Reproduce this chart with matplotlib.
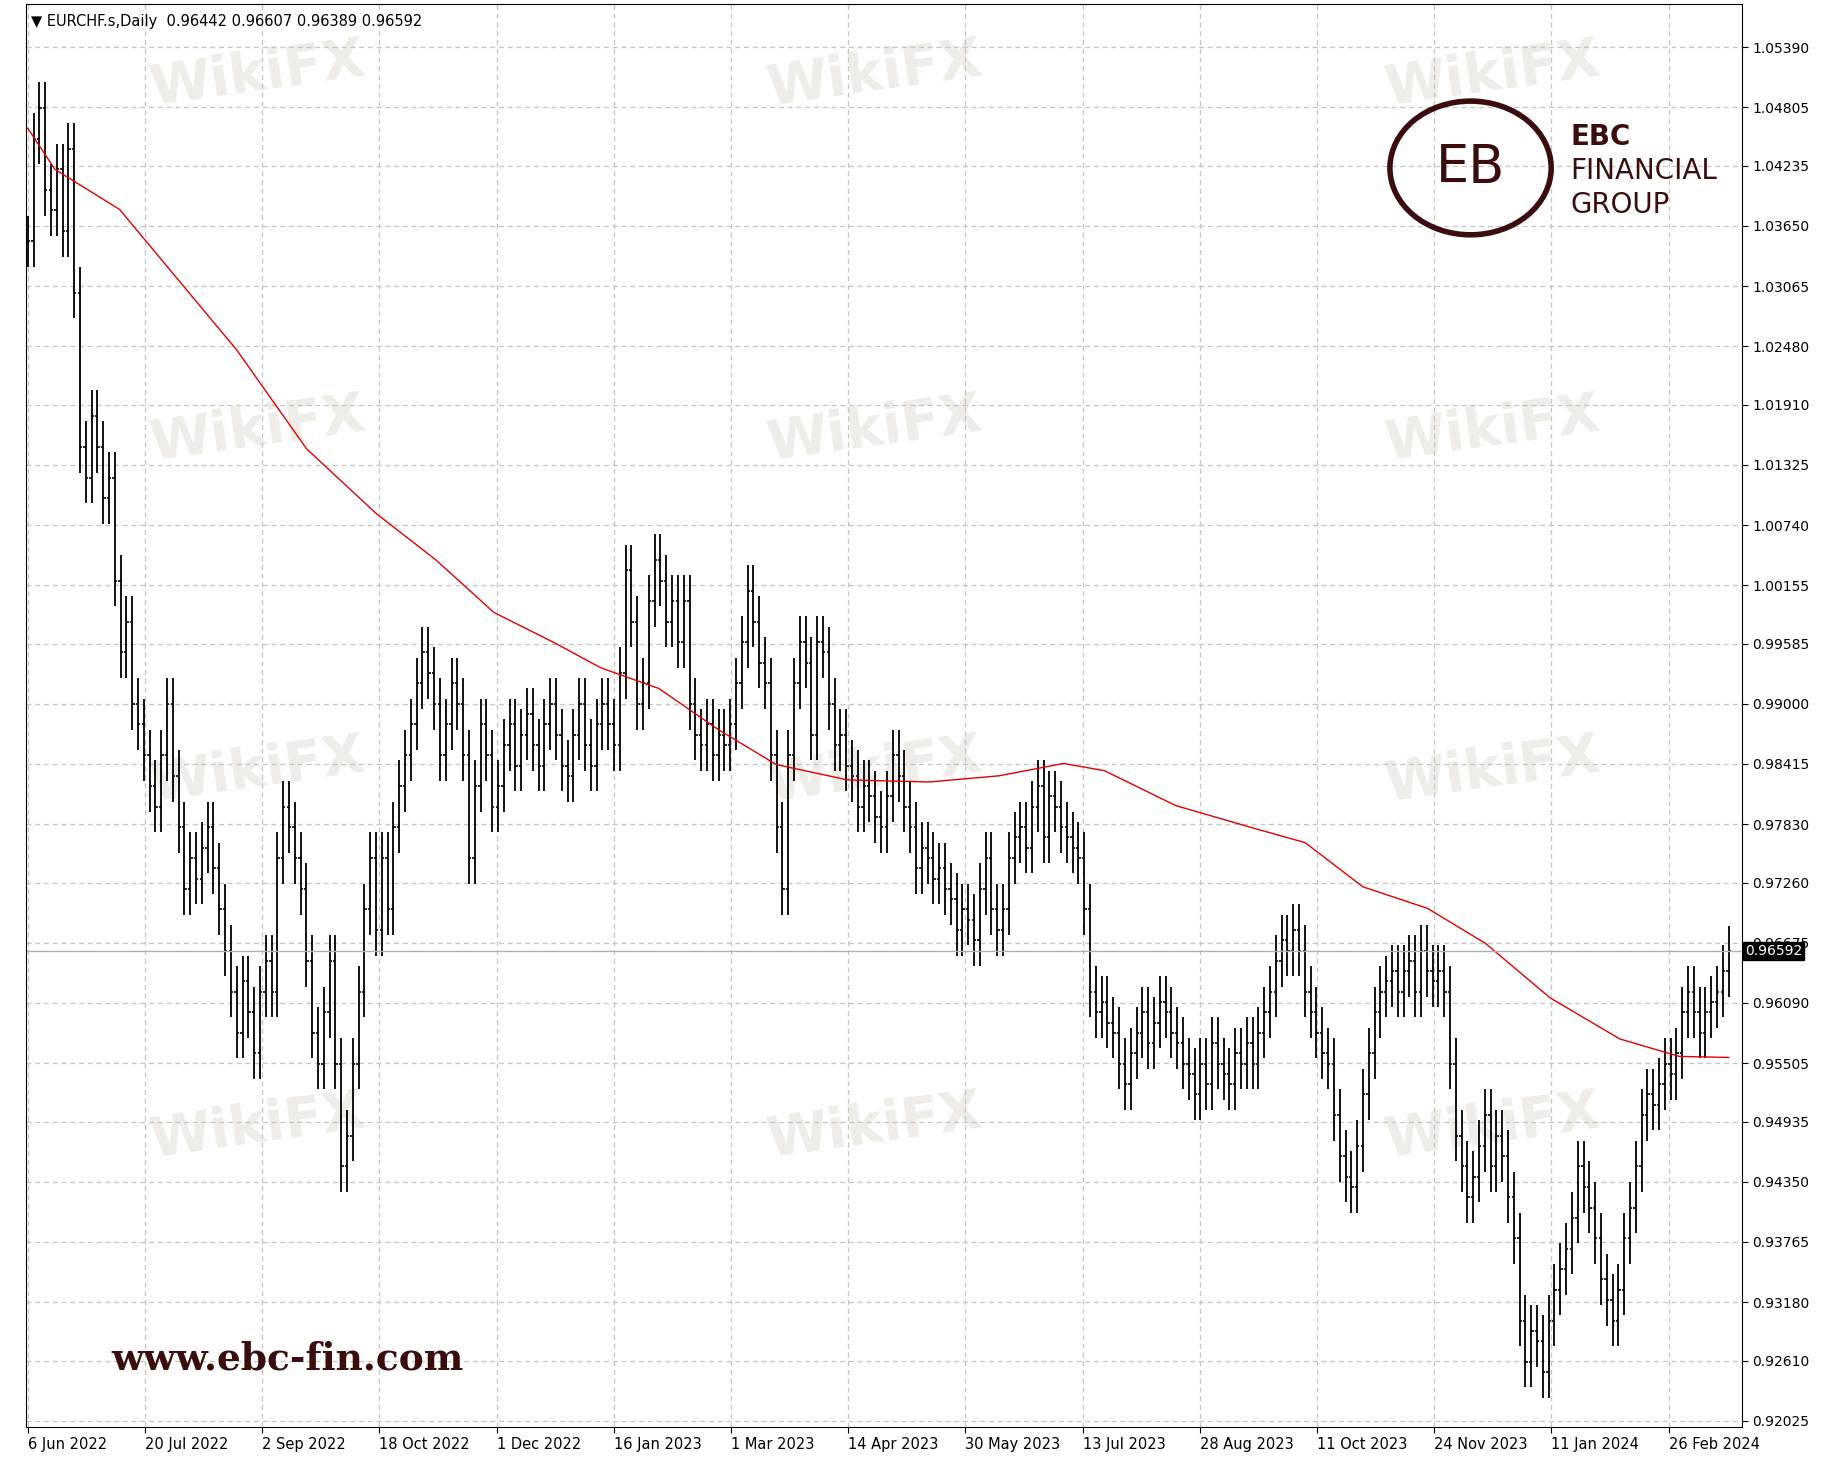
import matplotlib
matplotlib.use("Agg")
import matplotlib.pyplot as plt
import numpy as np

closes = [1.035,1.045,1.048,1.040,1.038,1.042,1.036,1.044,1.030,1.015,1.012,1.018,1.015,1.010,1.012,
1.002,0.995,0.998,0.990,0.988,0.985,0.982,0.980,0.985,0.990,0.983,0.978,0.972,0.975,0.973,0.976,0.978,
0.974,0.970,0.966,0.962,0.958,0.963,0.960,0.956,0.962,0.965,0.962,0.975,0.980,0.978,0.975,0.972,0.965,
0.958,0.955,0.960,0.965,0.955,0.945,0.948,0.955,0.962,0.970,0.975,0.968,0.975,0.970,0.978,0.982,0.985,
0.988,0.992,0.995,0.993,0.990,0.985,0.988,0.992,0.990,0.985,0.975,0.982,0.988,0.985,0.980,0.982,0.986,
0.988,0.984,0.987,0.989,0.986,0.984,0.988,0.990,0.987,0.984,0.983,0.987,0.990,0.986,0.984,0.988,0.990,
0.988,0.986,0.993,1.003,0.998,0.990,0.992,1.000,1.004,1.002,0.998,1.000,0.996,1.000,0.990,0.987,0.986,
0.988,0.985,0.987,0.986,0.988,0.992,0.996,1.001,0.998,0.994,0.992,0.985,0.978,0.972,0.985,0.992,0.996,
0.994,0.987,0.996,0.995,0.990,0.986,0.987,0.984,0.983,0.980,0.982,0.981,0.979,0.978,0.981,0.985,0.983,
0.980,0.978,0.974,0.976,0.975,0.973,0.974,0.972,0.971,0.968,0.970,0.969,0.967,0.972,0.975,0.970,0.968,
0.970,0.975,0.977,0.978,0.976,0.980,0.982,0.977,0.981,0.980,0.978,0.977,0.976,0.975,0.970,0.962,0.960,
0.961,0.959,0.958,0.955,0.953,0.956,0.958,0.960,0.957,0.959,0.961,0.960,0.958,0.957,0.955,0.954,0.952,
0.955,0.953,0.957,0.955,0.954,0.953,0.956,0.955,0.957,0.955,0.958,0.960,0.962,0.965,0.967,0.966,0.968,
0.966,0.962,0.960,0.958,0.956,0.955,0.950,0.946,0.944,0.943,0.947,0.952,0.956,0.960,0.962,0.963,0.964,
0.962,0.964,0.965,0.962,0.966,0.964,0.963,0.964,0.962,0.955,0.948,0.945,0.942,0.944,0.947,0.950,0.945,
0.948,0.946,0.942,0.938,0.930,0.926,0.929,0.928,0.925,0.930,0.933,0.935,0.937,0.940,0.945,0.943,0.941,
0.938,0.934,0.932,0.930,0.933,0.938,0.941,0.945,0.950,0.952,0.951,0.953,0.955,0.954,0.956,0.960,0.962,
0.960,0.958,0.960,0.961,0.962,0.964,0.96592]

# MA anchors as fraction of the plotted span (0 = first bar, 1 = last bar)
ma_frac = [0,0.016,0.054,0.123,0.164,0.205,0.240,0.274,0.309,0.337,0.371,0.406,0.440,0.482,0.530,0.571,
0.609,0.633,0.675,0.723,0.751,0.785,0.823,0.857,0.895,0.936,0.971,1.0]
ma_val = [1.046,1.042,1.0381,1.0244,1.0148,1.0085,1.0040,0.9989,0.9960,0.9935,0.9915,0.9875,0.9841,0.9826,
0.9824,0.9830,0.9842,0.9835,0.9801,0.9778,0.9765,0.9722,0.9701,0.9667,0.9614,0.9574,0.9557,0.9556]

ytick_labels = ["0.92025","0.92610","0.93180","0.93765","0.94350","0.94935","0.95505","0.96090","0.96675",
"0.97260","0.97830","0.98415","0.99000","0.99585","1.00155","1.00740","1.01325","1.01910","1.02480",
"1.03065","1.03650","1.04235","1.04805","1.05390"]
date_labels = ["6 Jun 2022","20 Jul 2022","2 Sep 2022","18 Oct 2022","1 Dec 2022","16 Jan 2023","1 Mar 2023",
"14 Apr 2023","30 May 2023","13 Jul 2023","28 Aug 2023","11 Oct 2023","24 Nov 2023","11 Jan 2024","26 Feb 2024"]

n = len(closes)
span = n - 1
fig = plt.figure(figsize=(18.3, 14.64), dpi=100)
ax = fig.add_axes([0.0142, 0.0255, 0.9375, 0.9715])
ax.set_xlim(-0.3, span * 1455 / 1444)
ax.set_ylim(0.91968, 1.05805)

yt = [float(s) for s in ytick_labels]
ax.yaxis.tick_right()
ax.set_yticks(yt)
ax.set_yticklabels(ytick_labels, fontsize=10)
step = span * 99.5 / 1444
ax.set_xticks([i*step for i in range(len(date_labels))])
ax.set_xticklabels(date_labels, fontsize=10.5, ha="left")
ax.tick_params(length=4, color="black")
ax.grid(True, color="#c4c4c4", linestyle=(0, (4, 3)), linewidth=0.9)
for s in ax.spines.values():
    s.set_color("black")

c = np.array(closes)
o = np.concatenate([[c[0]], c[:-1]])
pad = 0.0025
hi = np.maximum(o, c) + pad
lo = np.minimum(o, c) - pad
x = np.arange(n)
ax.vlines(x, lo, hi, color="black", linewidth=1.3)
ax.hlines(o, x-0.4, x, color="black", linewidth=1.2)
ax.hlines(c, x, x+0.4, color="black", linewidth=1.2)
ax.plot(np.array(ma_frac)*span, ma_val, color="#e00000", linewidth=1.0)

last = closes[-1]
ax.axhline(last, color="#b0b0b0", linewidth=1)
ax.text(1.002, last, f"{last:.5f}", transform=ax.get_yaxis_transform(), va="center", ha="left",
        fontsize=10, color="white", bbox=dict(facecolor="black", edgecolor="black", pad=1.5), clip_on=False)

ax.text(0.003, 0.993, "▼ EURCHF.s,Daily  0.96442 0.96607 0.96389 0.96592", transform=ax.transAxes,
        fontsize=10.5, va="top", ha="left")

for fx in [0.07, 0.43, 0.79]:
    for fy in [0.93, 0.68, 0.44, 0.19]:
        ax.text(fx, fy, "WikiFX", transform=ax.transAxes, fontsize=40, fontweight="bold",
                color="#e6e0d8", alpha=0.6, rotation=8, zorder=0)

ax.add_patch(plt.Circle((0.842, 0.885), 0.047, transform=ax.transAxes, fill=False,
             edgecolor="#3a0e0e", linewidth=4, zorder=5))
ax.text(0.842, 0.885, "EB", transform=ax.transAxes, fontsize=38, color="#3a0e0e", ha="center", va="center", zorder=5)
ax.text(0.900, 0.907, "EBC", transform=ax.transAxes, fontsize=20, fontweight="bold", color="#3a0e0e", va="center")
ax.text(0.900, 0.883, "FINANCIAL", transform=ax.transAxes, fontsize=20, color="#3a0e0e", va="center")
ax.text(0.900, 0.859, "GROUP", transform=ax.transAxes, fontsize=20, color="#3a0e0e", va="center")
ax.text(0.05, 0.04, "www.ebc-fin.com", transform=ax.transAxes, fontsize=27, fontweight="bold",
        family="DejaVu Serif", color="#3a0e0e")

fig.savefig("out.png", dpi=100)
